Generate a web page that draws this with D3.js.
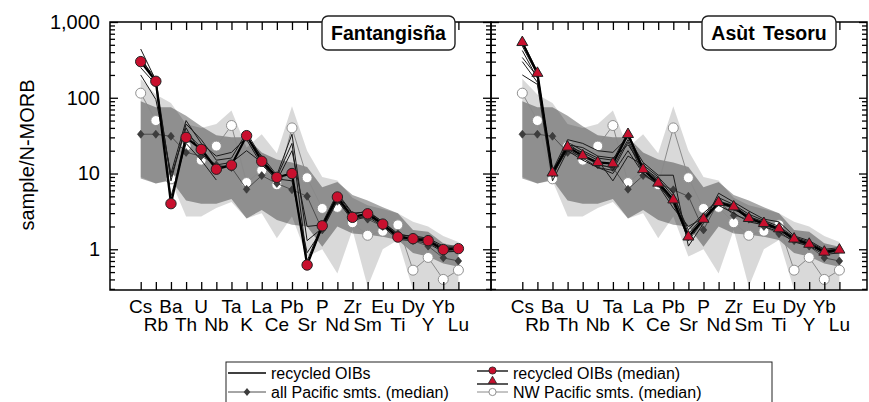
<!DOCTYPE html>
<html>
<head>
<meta charset="utf-8">
<script src="https://cdn.jsdelivr.net/npm/d3@7"></script>
<style>
  body { margin: 0; background: #fff; }
  svg { display: block; font-family: "Liberation Sans", Arial, sans-serif; }
</style>
</head>
<body>
<svg id="chart" width="869" height="402"></svg>
<script>
// element order on the x axis
const elements = ['Cs','Rb','Ba','Th','U','Nb','Ta','K','La','Ce','Pb','Sr','P','Nd','Zr','Sm','Eu','Ti','Dy','Y','Yb','Lu'];

// reference ranges (same on both panels)
const allPacUpper = [90,75,75,58,42,32,30,30,19,15.3,14,12.2,6.6,7.7,5.2,4.4,3.6,3.0,1.8,1.7,1.2,1.08];
const allPacLower = [8.6,7.4,8.2,4.4,4.0,4.0,4.6,2.55,3.3,2.43,2.1,2.0,1.08,2.0,1.62,1.55,1.46,1.33,0.89,0.8,0.65,0.59];
const nwPacUpper = [178,110,85,45,40,45,68,22,33,18.5,77,20,9,8.1,4.8,3.8,3.4,3.0,2.3,2.0,1.5,1.25];
const nwPacLower = [9,7.4,8,2.7,2.7,3.5,4.2,2.55,3.0,1.4,2.7,0.8,1.0,0.48,1.8,0.32,1.0,1.33,0.29,0.29,0.29,0.29];

// reference medians
const allPacMedian = [33,33,31,19,17,13,12,6.2,9.4,7.4,6.1,5.0,1.8,4.3,2.8,2.5,2.0,1.6,1.3,1.1,0.77,0.70];
const nwPacMedian = [115,50,8.5,23,15,23,43,7.6,11,7.1,40,8.8,3.46,3.57,2.24,1.53,1.73,2.1,0.53,0.78,0.40,0.53];

// Fantangisña recycled OIBs
const fanMedian = [300,165,4.0,30,20.8,11.4,12.9,31.6,14.5,8.9,10,0.62,2.04,4.9,2.64,2.94,2.15,1.45,1.38,1.3,0.99,1.02];
const fanSamples = [
  [440,170,4.2,35,22,12,13,32,15,9,10,0.62,2.0,5.0,2.7,3.0,2.2,1.5,1.4,1.3,1.0,1.0],
  [200,95,10,50,25,17,19,30,17,9.5,33,1.3,1.9,4.6,2.5,2.8,2.1,1.4,1.35,1.25,0.95,0.95],
  [250,150,9,40,18,13,14,20,14,8,20,2.0,2.1,5.3,2.9,3.2,2.3,1.55,1.5,1.4,1.1,1.1],
  [350,160,5,25,15,8.2,null,28,13,8.5,8,0.9,1.8,4.4,2.4,2.7,2.0,1.35,1.3,1.2,0.92,0.94],
  [320,180,8,45,28,15,16,35,16,9,25,0.7,2.2,5.5,3.0,3.1,2.3,1.6,1.45,1.35,1.05,1.05]
];

// Asùt Tesoru recycled OIBs
const asuMedian = [538,211,10.2,22.4,17.2,14,13.5,32.9,11.3,7.5,4.5,1.46,2.5,4.15,3.64,2.56,2.2,1.87,1.37,1.17,0.92,0.98];
const asuSamples = [
  [560,220,10,26,20,16,15,35,12,8,4.6,1.3,2.4,4.3,3.8,2.7,2.3,1.9,1.4,1.2,0.95,1.0],
  [480,200,11,28,25,20,19,30,14,9.5,9.5,1.1,2.2,5.5,4.2,3.2,2.5,2.3,1.5,1.3,1.0,1.05],
  [340,190,9,24,22,17,16,24,12,8.5,5,1.8,3.0,4.5,3.3,2.8,2.0,1.7,1.25,1.1,0.85,0.9],
  [200,150,8,20,15,12,10,20,10,7,3.5,2.0,2.6,3.8,3.0,2.3,2.1,1.8,1.3,1.15,0.9,0.95],
  [420,180,10,25,18,13,12,28,11,7,4.2,1.5,2.3,4.0,3.5,2.5,2.2,1.85,1.35,1.15,0.9,0.95],
  [300,160,11,23,19,15,8,17,13,9,5.5,1.6,2.7,4.8,3.9,2.9,2.4,2.0,1.45,1.25,0.97,1.0],
  [520,210,9.5,21,16,12,11,26,10,7.2,4.0,1.4,2.4,4.2,3.6,2.6,2.1,1.8,1.35,1.15,0.9,0.95]
];

const yTicks = [1, 10, 100, 1000];

const svg = d3.select('#chart');
const plotTop = 22, plotBottom = 290;
const y = d3.scaleLog().domain([0.29, 1000]).range([plotBottom, plotTop]);
const minorTicks = y.ticks().filter(v => yTicks.indexOf(v) < 0);

const panels = [
  {name: 'Fantangisña', x0: 110, x1: 491, first: 140.7, last: 458.4, median: fanMedian, samples: fanSamples, marker: 'circle', boxX: 322, boxW: 133},
  {name: 'Asùt Tesoru', x0: 491, x1: 867, first: 522.3, last: 839.4, median: asuMedian, samples: asuSamples, marker: 'triangle', boxX: 702, boxW: 134}
];

const red = '#c8102e';
const diamond = 'M0,-4L3.3,0L0,4L-3.3,0Z';

panels.forEach((p, pi) => {
  const x = d3.scalePoint().domain(elements).range([p.first, p.last]);
  const g = svg.append('g');

  g.append('clipPath').attr('id', 'clip' + pi)
    .append('rect').attr('x', p.x0).attr('y', plotTop).attr('width', p.x1 - p.x0).attr('height', plotBottom - plotTop);
  const plot = g.append('g').attr('clip-path', 'url(#clip' + pi + ')');

  const band = (up, lo) => d3.area()
    .x((d, i) => x(elements[i]))
    .y0((d, i) => y(lo[i]))
    .y1((d, i) => y(up[i]))(up);

  plot.append('path').attr('d', band(nwPacUpper, nwPacLower))
    .attr('fill', '#000').attr('fill-opacity', 0.15);
  plot.append('path').attr('d', band(allPacUpper, allPacLower))
    .attr('fill', '#000').attr('fill-opacity', 0.34);

  const line = d3.line()
    .defined(d => d != null)
    .x((d, i) => x(elements[i]))
    .y(d => y(d));

  // NW Pacific median
  plot.append('path').attr('d', line(nwPacMedian))
    .attr('fill', 'none').attr('stroke', '#8a8a8a').attr('stroke-width', 1);
  plot.selectAll('.nw').data(nwPacMedian).join('circle')
    .attr('cx', (d, i) => x(elements[i])).attr('cy', d => y(d)).attr('r', 5)
    .attr('fill', '#fff').attr('stroke', '#909090').attr('stroke-width', 1);

  // all Pacific median
  plot.append('path').attr('d', line(allPacMedian))
    .attr('fill', 'none').attr('stroke', '#4d4d4d').attr('stroke-width', 1);
  plot.selectAll('.ap').data(allPacMedian).join('path')
    .attr('transform', (d, i) => 'translate(' + x(elements[i]) + ',' + y(d) + ')')
    .attr('d', diamond)
    .attr('fill', '#3d3d3d').attr('stroke', '#333').attr('stroke-width', 0.6);

  // individual recycled OIBs
  p.samples.forEach(s => {
    plot.append('path').attr('d', line(s))
      .attr('fill', 'none').attr('stroke', '#1a1a1a').attr('stroke-width', 1);
  });

  // recycled OIB median
  plot.append('path').attr('d', line(p.median))
    .attr('fill', 'none').attr('stroke', '#000').attr('stroke-width', 2.2);
  if (p.marker === 'circle') {
    plot.selectAll('.med').data(p.median).join('circle')
      .attr('cx', (d, i) => x(elements[i])).attr('cy', d => y(d)).attr('r', 5.2)
      .attr('fill', red).attr('stroke', '#222').attr('stroke-width', 1);
  } else {
    plot.selectAll('.med').data(p.median).join('path')
      .attr('transform', (d, i) => 'translate(' + x(elements[i]) + ',' + y(d) + ')')
      .attr('d', d3.symbol(d3.symbolTriangle, 52))
      .attr('fill', red).attr('stroke', '#222').attr('stroke-width', 1);
  }

  // frame and ticks
  g.append('rect').attr('x', p.x0).attr('y', plotTop).attr('width', p.x1 - p.x0).attr('height', plotBottom - plotTop)
    .attr('fill', 'none').attr('stroke', '#000').attr('stroke-width', 1.5);

  const tickStyle = s => {
    s.select('.domain').remove();
    s.selectAll('line').attr('stroke', '#000').attr('stroke-width', 1.3);
  };

  g.append('g').attr('transform', 'translate(0,' + plotTop + ')')
    .call(d3.axisTop(x).tickSize(-8).tickFormat('')).call(tickStyle);
  g.append('g').attr('transform', 'translate(0,' + plotBottom + ')')
    .call(d3.axisBottom(x).tickSize(-8).tickFormat('')).call(tickStyle);

  [[p.x0, d3.axisLeft, -1], [p.x1, d3.axisRight, 1]].forEach(([xx, ax, side]) => {
    g.append('g').attr('transform', 'translate(' + xx + ',0)')
      .call(ax(y).tickValues(yTicks).tickSize(-8).tickPadding(10)
        .tickFormat(pi === 0 && side < 0 ? d3.format(',') : ''))
      .call(tickStyle)
      .call(s => s.selectAll('text').attr('font-size', 20).attr('fill', '#000'));
    g.append('g').attr('transform', 'translate(' + xx + ',0)')
      .call(ax(y).tickValues(minorTicks).tickSize(-5).tickFormat(''))
      .call(tickStyle);
  });

  // element labels, two rows
  g.selectAll('.lab').data(elements).join('text')
    .attr('x', d => x(d))
    .attr('y', (d, i) => i % 2 === 0 ? 313 : 331)
    .attr('text-anchor', 'middle')
    .attr('font-size', 19)
    .text(d => d);

  // panel title
  g.append('rect').attr('x', p.boxX).attr('y', 16).attr('width', p.boxW).attr('height', 34)
    .attr('rx', 6).attr('fill', '#fff').attr('stroke', '#222').attr('stroke-width', 1.4);
  g.append('text').attr('x', p.boxX + p.boxW / 2).attr('y', 40)
    .attr('text-anchor', 'middle').attr('font-size', 19.5).attr('font-weight', 'bold')
    .attr('word-spacing', 3)
    .text(p.name);
});

// y axis title
svg.append('text')
  .attr('transform', 'translate(34,155) rotate(-90)')
  .attr('text-anchor', 'middle').attr('font-size', 20)
  .text('sample/N-MORB');

// legend
const lg = svg.append('g');
lg.append('rect').attr('x', 226).attr('y', 362).attr('width', 546).attr('height', 60)
  .attr('fill', '#fff').attr('stroke', '#222').attr('stroke-width', 1);

const legFont = 16;
const row1 = 373, row2 = 392;
// recycled OIBs
lg.append('line').attr('x1', 228).attr('x2', 266).attr('y1', row1).attr('y2', row1)
  .attr('stroke', '#000').attr('stroke-width', 1.4);
lg.append('text').attr('x', 271).attr('y', row1 + 6).attr('font-size', legFont).text('recycled OIBs');
// all Pacific
lg.append('line').attr('x1', 228).attr('x2', 266).attr('y1', row2).attr('y2', row2)
  .attr('stroke', '#4d4d4d').attr('stroke-width', 1);
lg.append('path').attr('transform', 'translate(247,' + row2 + ')').attr('d', diamond)
  .attr('fill', '#3d3d3d');
lg.append('text').attr('x', 271).attr('y', row2 + 6).attr('font-size', legFont).text('all Pacific smts. (median)');
// recycled OIB medians
lg.append('line').attr('x1', 477).attr('x2', 508).attr('y1', 371).attr('y2', 371)
  .attr('stroke', '#000').attr('stroke-width', 1.3);
lg.append('circle').attr('cx', 492.5).attr('cy', 370.5).attr('r', 3.6)
  .attr('fill', red).attr('stroke', '#222').attr('stroke-width', 0.8);
lg.append('line').attr('x1', 477).attr('x2', 508).attr('y1', 384).attr('y2', 384)
  .attr('stroke', '#000').attr('stroke-width', 1.3);
lg.append('path').attr('transform', 'translate(492.5,381)').attr('d', d3.symbol(d3.symbolTriangle, 30))
  .attr('fill', red).attr('stroke', '#222').attr('stroke-width', 0.8);
lg.append('text').attr('x', 513).attr('y', row1 + 6).attr('font-size', legFont).text('recycled OIBs (median)');
// NW Pacific
lg.append('line').attr('x1', 477).attr('x2', 508).attr('y1', row2).attr('y2', row2)
  .attr('stroke', '#8a8a8a').attr('stroke-width', 1);
lg.append('circle').attr('cx', 492.5).attr('cy', row2).attr('r', 3.6)
  .attr('fill', '#fff').attr('stroke', '#909090').attr('stroke-width', 1);
lg.append('text').attr('x', 513).attr('y', row2 + 6).attr('font-size', legFont).text('NW Pacific smts. (median)');
</script>
</body>
</html>
